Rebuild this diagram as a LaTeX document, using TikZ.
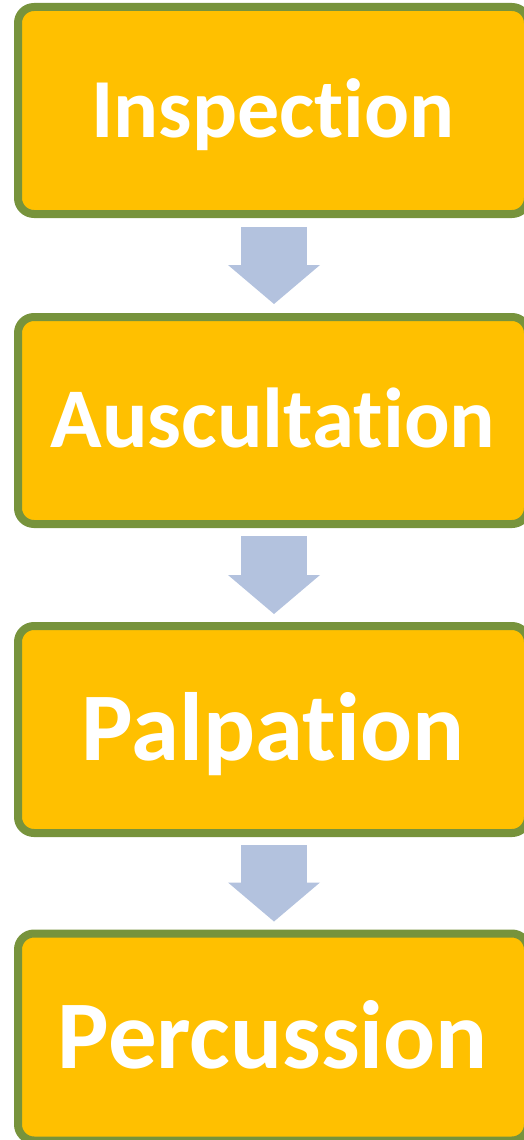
\documentclass[tikz,border=0pt]{standalone}
\usepackage{fontspec}
\setmainfont{Carlito}[Ligatures=NoCommon]
\usetikzlibrary{arrows.meta,calc}
\definecolor{boxfill}{HTML}{FFC000}
\definecolor{boxline}{HTML}{77933C}
\definecolor{arrowfill}{HTML}{B3C2DE}
\tikzset{step box/.style={shape=rectangle, draw=boxline, fill=boxfill, line width=8pt,
    rounded corners=16pt, minimum width=510pt, minimum height=207pt, inner sep=0pt,
    text=white, text depth=0pt}}
\tikzset{down arrow/.style={draw=arrowfill, line width=66pt,
    -{Triangle[length=39pt, width=92pt, line width=0pt]}}}

\begin{document}
\begin{tikzpicture}[x=1pt, y=-1pt]
    \useasboundingbox (0,0) rectangle (524,1140);

    \node(insp)[step box, font=\bfseries\fontsize{84}{90}\selectfont, text height=54pt] at (273,110.5)  {Inspection};
    \node(ausc)[step box, font=\bfseries\fontsize{85}{90}\selectfont, text height=54.5pt] at (273,420.5)  {Auscultation};
    \node(palp)[step box, font=\bfseries\fontsize{97}{100}\selectfont, text height=62.5pt] at (273,729.5)  {Palpation};
    \node(perc)[step box, font=\bfseries\fontsize{97}{100}\selectfont, text height=62.5pt] at (273,1037)   {Percussion};

    \draw [down arrow] ($(insp.south)+(1,9)$) to ($(ausc.north)+(1,-9)$);
    \draw [down arrow] ($(ausc.south)+(1,8)$) to ($(palp.north)+(1,-8)$);
    \draw [down arrow] ($(palp.south)+(1,8)$) to ($(perc.north)+(1,-8)$);

  \end{tikzpicture}
\end{document}
